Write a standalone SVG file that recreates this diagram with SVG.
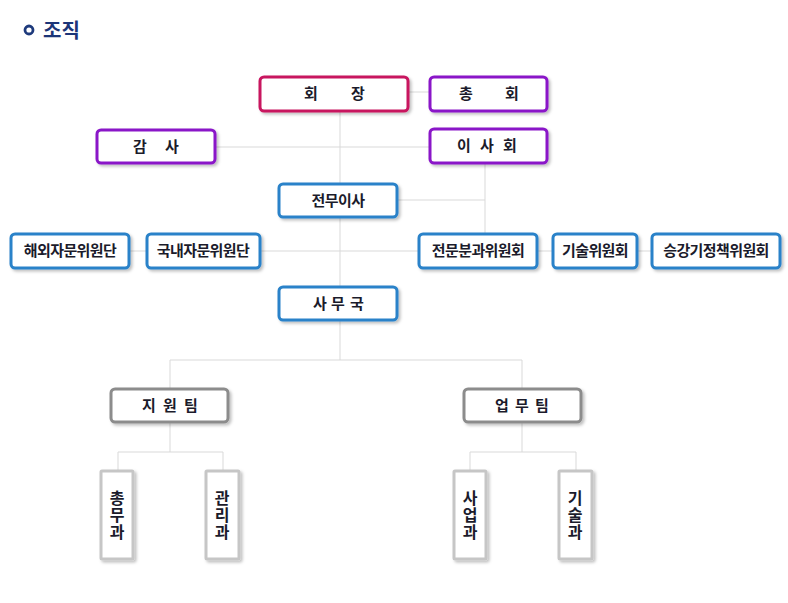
<svg xmlns="http://www.w3.org/2000/svg" width="788" height="603" viewBox="0 0 788 603">
<defs>
<filter id="sh" x="-10%" y="-20%" width="130%" height="160%">
<feDropShadow dx="2" dy="2" stdDeviation="1.5" flood-color="#000" flood-opacity="0.25"/>
</filter>
<style>
.b{fill:#fff;stroke-width:3;filter:url(#sh)}
.red{stroke:#c8145e}
.pur{stroke:#8a16c8}
.blu{stroke:#2a82c9}
.gry{stroke:#8c8c8c}
.lgr{stroke:#c6c6c6}
.t{font-family:"Noto Sans CJK KR","Noto Sans",sans-serif;font-size:15px;font-weight:700;fill:#1b1b2b;text-anchor:middle}
.s{font-size:15px;letter-spacing:-0.6px}
.v{font-family:"Noto Sans CJK KR","Noto Sans",sans-serif;font-size:16px;font-weight:700;fill:#1b1b2b;text-anchor:middle;writing-mode:vertical-rl;letter-spacing:1px}
.c{stroke:#d9d9d9;stroke-width:1;fill:none}
</style>
</defs>
<rect width="788" height="603" fill="#fff"/>
<g id="title">
<circle cx="29" cy="30" r="4" fill="none" stroke="#1e3a7c" stroke-width="2.8"/>
<text x="43" y="38" font-family="'Noto Sans CJK KR','Noto Sans',sans-serif" font-size="20" font-weight="700" fill="#1c3578">조직</text>
</g>
<g id="connectors" class="c">
<path d="M340 111V360"/>
<path d="M408 92H430"/>
<path d="M215 147H430"/>
<path d="M485 163V251"/>
<path d="M397 200H485"/>
<path d="M129 251H147M260 251H419M537 251H553M637 251H652"/>
<path d="M170 360H522M170 360V389M522 360V389"/>
<path d="M170 422V452M118 452H223M118 452V471M223 452V471"/>
<path d="M522 422V452M470 452H576M470 452V471M576 452V471"/>
</g>
<g id="n-chair"><rect class="b red" x="260" y="77" width="148" height="34" rx="4"/><text class="t" x="311" y="99">회</text><text class="t" x="358" y="99">장</text></g>
<g id="n-general"><rect class="b pur" x="430" y="77" width="117" height="34" rx="4"/><text class="t" x="466" y="99">총</text><text class="t" x="512" y="99">회</text></g>
<g id="n-audit"><rect class="b pur" x="97" y="130" width="118" height="33" rx="4"/><text class="t" x="140" y="152">감</text><text class="t" x="172" y="152">사</text></g>
<g id="n-board"><rect class="b pur" x="430" y="129" width="117" height="34" rx="4"/><text class="t" x="464" y="151">이</text><text class="t" x="487" y="151">사</text><text class="t" x="510" y="151">회</text></g>
<g id="n-exec"><rect class="b blu" x="279" y="184" width="118" height="33" rx="4"/><text class="t s" x="338" y="206">전무이사</text></g>
<g id="n-overseas"><rect class="b blu" x="11" y="234" width="118" height="34" rx="4"/><text class="t s" x="70" y="256">해외자문위원단</text></g>
<g id="n-domestic"><rect class="b blu" x="147" y="234" width="113" height="34" rx="4"/><text class="t s" x="203" y="256">국내자문위원단</text></g>
<g id="n-expert"><rect class="b blu" x="419" y="234" width="118" height="34" rx="4"/><text class="t s" x="478" y="256">전문분과위원회</text></g>
<g id="n-tech"><rect class="b blu" x="553" y="234" width="84" height="34" rx="4"/><text class="t s" x="595" y="256">기술위원회</text></g>
<g id="n-policy"><rect class="b blu" x="652" y="234" width="128" height="34" rx="4"/><text class="t s" x="716" y="256">승강기정책위원회</text></g>
<g id="n-office"><rect class="b blu" x="279" y="287" width="118" height="33" rx="4"/><text class="t" x="320" y="309">사</text><text class="t" x="338" y="309">무</text><text class="t" x="357" y="309">국</text></g>
<g id="n-support"><rect class="b gry" x="111" y="389" width="117" height="33" rx="4"/><text class="t" x="149" y="411">지</text><text class="t" x="170" y="411">원</text><text class="t" x="191" y="411">팀</text></g>
<g id="n-work"><rect class="b gry" x="464" y="389" width="117" height="33" rx="4"/><text class="t" x="502" y="411">업</text><text class="t" x="522" y="411">무</text><text class="t" x="542" y="411">팀</text></g>
<g id="n-general-affairs"><rect class="b lgr" x="101" y="471" width="32" height="88" rx="1"/><text class="v" x="117" y="515">총무과</text></g>
<g id="n-admin"><rect class="b lgr" x="206" y="471" width="33" height="88" rx="1"/><text class="v" x="222" y="515">관리과</text></g>
<g id="n-business"><rect class="b lgr" x="454" y="471" width="32" height="88" rx="1"/><text class="v" x="470" y="515">사업과</text></g>
<g id="n-technical"><rect class="b lgr" x="559" y="471" width="33" height="88" rx="1"/><text class="v" x="575" y="515">기술과</text></g>
</svg>
